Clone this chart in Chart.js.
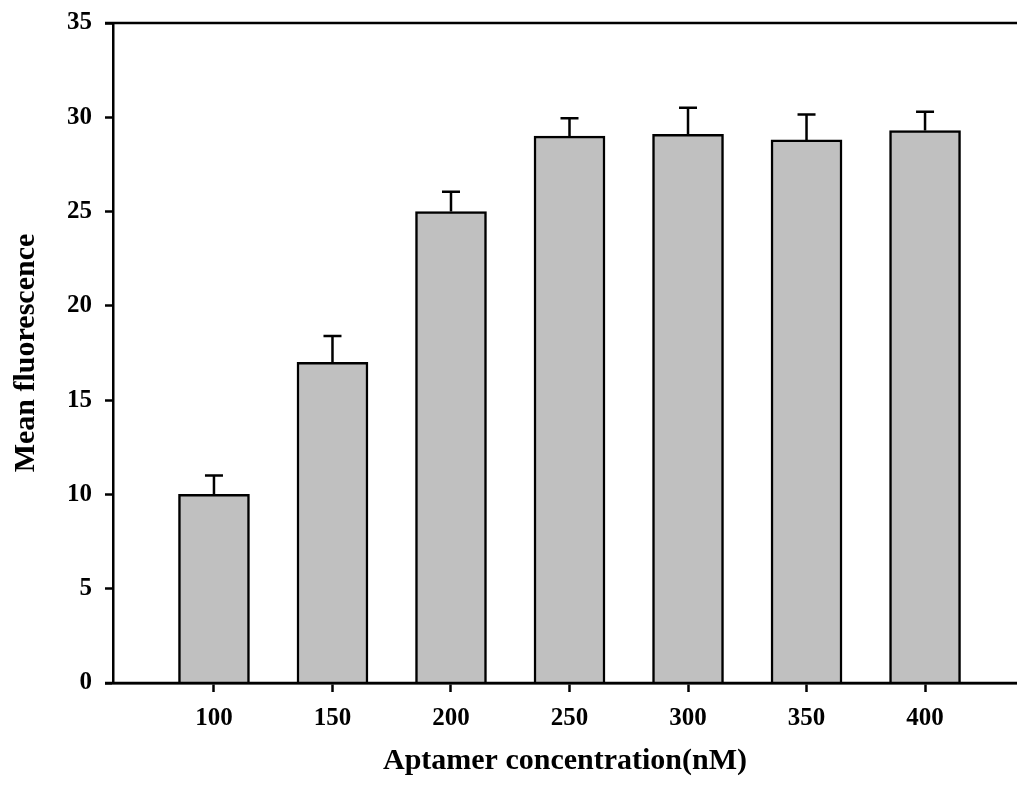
<!DOCTYPE html>
<html>
<head>
<meta charset="utf-8">
<script src="https://cdn.jsdelivr.net/npm/chart.js@4/dist/chart.umd.min.js"></script>
<style>
  html, body { margin: 0; padding: 0; background: #fff; }
  #wrap { width: 1017px; height: 791px; position: relative; }
</style>
</head>
<body>
<div id="wrap"><canvas id="chart"></canvas></div>
<script>
// Mean fluorescence vs aptamer concentration, bars with +SD caps
const concentrations = [100, 150, 200, 250, 300, 350, 400]
const meanFluorescence = [10.0, 17.0, 25.0, 29.0, 29.1, 28.8, 29.3]
const errors = [1.0, 1.4, 1.05, 0.95, 1.4, 1.35, 1.0]
const yTicks = [0, 5, 10, 15, 20, 25, 30, 35]

const FONT = "'Liberation Serif', 'Times New Roman', serif"

// upward error bars with a short cap
const errorBars = {
  id: 'errorBars',
  afterDatasetsDraw(chart) {
    const ctx = chart.ctx
    const y = chart.scales.y
    const meta = chart.getDatasetMeta(0)
    ctx.save()
    ctx.strokeStyle = '#000'
    ctx.lineWidth = 2.5
    meta.data.forEach((bar, i) => {
      const top = y.getPixelForValue(meanFluorescence[i] + errors[i])
      ctx.beginPath()
      ctx.moveTo(bar.x, bar.y)
      ctx.lineTo(bar.x, top)
      ctx.moveTo(bar.x - 9, top)
      ctx.lineTo(bar.x + 9, top)
      ctx.stroke()
    })
    ctx.restore()
  }
}

// top frame line, running out past the 35 tick like the bottom axis does
const frame = {
  id: 'frame',
  afterDraw(chart) {
    const { ctx, chartArea } = chart
    ctx.save()
    ctx.strokeStyle = '#000'
    ctx.lineWidth = 2.5
    ctx.beginPath()
    ctx.moveTo(chartArea.left - 8, chartArea.top)
    ctx.lineTo(chart.width, chartArea.top)
    ctx.moveTo(chartArea.left - 8, chartArea.bottom)
    ctx.lineTo(chart.width, chartArea.bottom)
    ctx.stroke()
    ctx.restore()
  }
}

new Chart(document.getElementById('chart'), {
  type: 'bar',
  data: {
    datasets: [{
      data: concentrations.map((c, i) => ({ x: c, y: meanFluorescence[i] })),
      backgroundColor: '#c0c0c0',
      borderColor: '#000',
      borderWidth: 2.5,
      barThickness: 71
    }]
  },
  options: {
    responsive: true,
    maintainAspectRatio: false,
    animation: false,
    layout: { padding: { top: 23, right: 0, left: 0, bottom: 0 } },
    plugins: {
      legend: { display: false },
      tooltip: { enabled: false }
    },
    scales: {
      x: {
        type: 'linear',
        min: 57.4,
        max: 438.8,
        offset: false,
        afterBuildTicks: s => { s.ticks = concentrations.map(v => ({ value: v })) },
        afterFit: s => { s.height = 108; s.paddingLeft = 0; s.paddingRight = 0 },
        grid: { offset: false, drawOnChartArea: false, tickLength: 9, tickWidth: 2.5, color: '#000' },
        border: { display: true, color: '#000', width: 2.5 },
        ticks: {
          color: '#000',
          padding: 12,
          font: { family: FONT, size: 25, weight: 'bold' }
        },
        title: {
          display: true,
          text: 'Aptamer concentration(nM)',
          color: '#000',
          padding: { top: 0, bottom: 12 },
          font: { family: FONT, size: 30, weight: 'bold' }
        }
      },
      y: {
        min: 0,
        max: 35,
        afterBuildTicks: s => { s.ticks = yTicks.map(v => ({ value: v })) },
        afterFit: s => { s.width = 113; s.paddingTop = 0; s.paddingBottom = 0 },
        grid: { drawOnChartArea: false, tickLength: 8, tickWidth: 2.5, color: '#000' },
        border: { display: true, color: '#000', width: 2.5 },
        ticks: {
          color: '#000',
          padding: 13,
          font: { family: FONT, size: 25, weight: 'bold' }
        },
        title: {
          display: true,
          text: 'Mean fluorescence',
          color: '#000',
          padding: { top: 8, bottom: 0 },
          font: { family: FONT, size: 30, weight: 'bold' }
        }
      }
    }
  },
  plugins: [errorBars, frame]
})
</script>
</body>
</html>
